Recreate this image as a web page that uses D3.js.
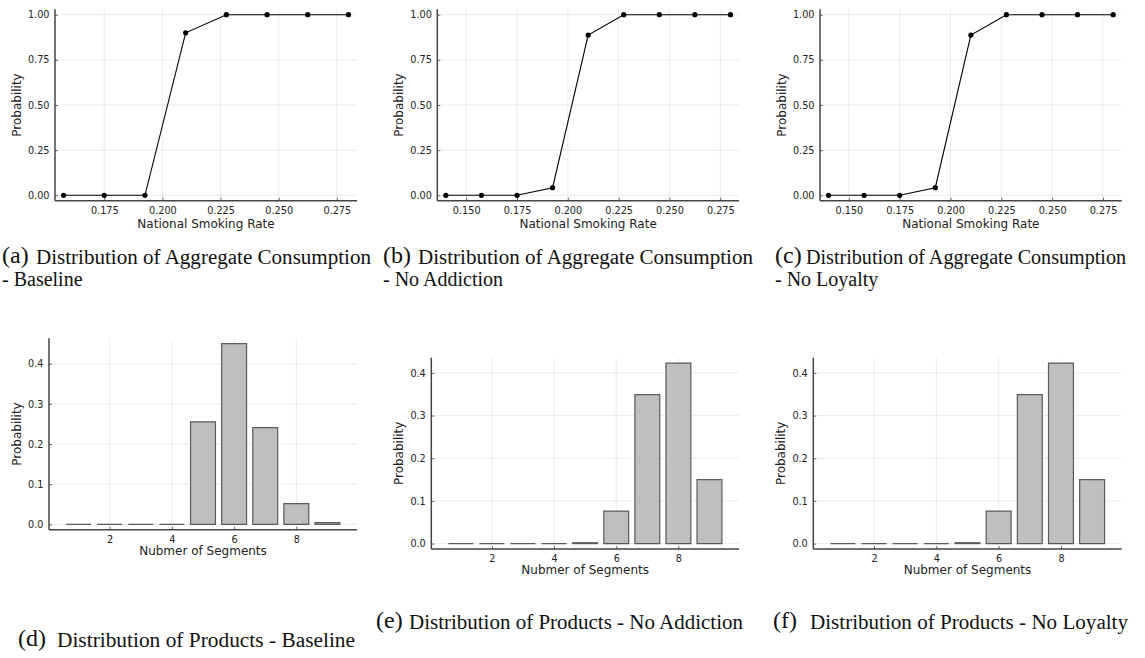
<!DOCTYPE html>
<html>
<head>
<meta charset="utf-8">
<script src="https://cdn.jsdelivr.net/npm/d3@7"></script>
<style>
  body { margin: 0; background: #fff; }
  svg { display: block; }
  .tick-label { font-family: "DejaVu Sans", sans-serif; font-size: 9.7px; fill: #222; }
  .axis-title { font-family: "DejaVu Sans", sans-serif; font-size: 12px; fill: #222; }
  .cap { font-family: "Liberation Serif", "Times New Roman", serif; fill: #111; }
</style>
</head>
<body>
<script>

var smoking_rate_a = [0.1575, 0.175, 0.1925, 0.21, 0.2275, 0.245, 0.2625, 0.28],
    smoking_rate_bc = [0.14, 0.1575, 0.175, 0.1925, 0.21, 0.2275, 0.245, 0.2625, 0.28],
    consumption_baseline = [0, 0, 0, 0.9, 1, 1, 1, 1],
    consumption_no_addiction = [0, 0, 0, 0.042, 0.887, 1, 1, 1, 1],
    consumption_no_loyalty = [0, 0, 0, 0.042, 0.887, 1, 1, 1, 1];

var segments = [1, 2, 3, 4, 5, 6, 7, 8, 9],
    products_baseline = [0, 0, 0, 0, 0.255, 0.45, 0.241, 0.0515, 0.004],
    products_no_addiction = [0, 0, 0, 0, 0.002, 0.076, 0.349, 0.423, 0.15],
    products_no_loyalty = [0, 0, 0, 0, 0.002, 0.076, 0.349, 0.423, 0.15];

var rate_ticks_a = [0.175, 0.2, 0.225, 0.25, 0.275],
    rate_ticks_bc = [0.15, 0.175, 0.2, 0.225, 0.25, 0.275],
    prob_ticks_top = [0, 0.25, 0.5, 0.75, 1],
    prob_ticks_bottom = [0, 0.1, 0.2, 0.3, 0.4],
    segment_ticks = [2, 4, 6, 8];

var width = 1145, height = 658;

var svg = d3.select('body').append('svg')
  .attr('width', width)
  .attr('height', height);

function pad(ext) {
  var m = (ext[1] - ext[0]) * 0.03;
  return [ext[0] - m, ext[1] + m];
}

// common frame: grid, axis lines, inward ticks, labels
function frame(p, x, y, xticks, yticks, xfmt, yfmt) {
  var g = svg.append('g'),
      x0 = p.left, x1 = p.right, y0 = p.bottom, y1 = p.top;

  g.selectAll('.gx').data(xticks).enter().append('line')
    .attr('x1', x).attr('x2', x)
    .attr('y1', y1).attr('y2', y0)
    .attr('stroke', '#000').attr('stroke-opacity', 0.1).attr('stroke-width', 0.8);

  g.selectAll('.gy').data(yticks).enter().append('line')
    .attr('x1', x0).attr('x2', x1)
    .attr('y1', y).attr('y2', y)
    .attr('stroke', '#000').attr('stroke-opacity', 0.1).attr('stroke-width', 0.8);

  var xa = g.append('g')
    .attr('transform', 'translate(0,' + y0 + ')')
    .call(d3.axisBottom(x).tickValues(xticks).tickFormat(d3.format(xfmt)).tickSizeInner(-3).tickSizeOuter(0).tickPadding(6));
  var ya = g.append('g')
    .attr('transform', 'translate(' + x0 + ',0)')
    .call(d3.axisLeft(y).tickValues(yticks).tickFormat(d3.format(yfmt)).tickSizeInner(-3).tickSizeOuter(0).tickPadding(5.5));

  [xa, ya].forEach(function(a) {
    a.select('.domain').remove();
    a.selectAll('.tick line').attr('stroke', '#444').attr('stroke-width', 0.8);
    a.selectAll('.tick text').attr('class', 'tick-label').attr('fill', null);
  });

  g.append('line')
    .attr('x1', x0).attr('x2', x1).attr('y1', y0).attr('y2', y0)
    .attr('stroke', '#444').attr('stroke-width', 1.5);
  g.append('line')
    .attr('x1', x0).attr('x2', x0).attr('y1', y1).attr('y2', y0)
    .attr('stroke', '#444').attr('stroke-width', 1.5);

  g.append('text')
    .attr('class', 'axis-title')
    .attr('text-anchor', 'middle')
    .attr('x', (x0 + x1) / 2)
    .attr('y', y0 + p.xlab)
    .text(p.xtitle);

  g.append('text')
    .attr('class', 'axis-title')
    .attr('text-anchor', 'middle')
    .attr('transform', 'translate(' + (x0 - p.ylab) + ',' + ((y0 + y1) / 2) + ') rotate(-90)')
    .text('Probability');

  return g;
}

function linePanel(p, xs, ys, xticks) {
  var x = d3.scaleLinear().domain(pad(d3.extent(xs))).range([p.left, p.right]),
      y = d3.scaleLinear().domain([-0.03, 1.03]).range([p.bottom, p.top]),
      g = frame(p, x, y, xticks, prob_ticks_top, '.3f', '.2f'),
      pts = d3.zip(xs, ys);

  g.append('path')
    .datum(pts)
    .attr('fill', 'none')
    .attr('stroke', '#000')
    .attr('stroke-width', 1.1)
    .attr('d', d3.line().x(function(d) { return x(d[0]); }).y(function(d) { return y(d[1]); }));

  g.selectAll('circle').data(pts).enter().append('circle')
    .attr('cx', function(d) { return x(d[0]); })
    .attr('cy', function(d) { return y(d[1]); })
    .attr('r', 2.6)
    .attr('fill', '#000');
}

function barPanel(p, xs, ys) {
  var ymax = d3.max(ys),
      x = d3.scaleLinear().domain([0.05, 9.95]).range([p.left, p.right]),
      y = d3.scaleLinear().domain([-0.03 * ymax, 1.03 * ymax]).range([p.bottom, p.top]),
      g = frame(p, x, y, segment_ticks, prob_ticks_bottom, 'd', '.1f'),
      bw = 0.8;

  // paths so that empty bars still show their outline
  g.selectAll('.bar').data(d3.zip(xs, ys)).enter().append('path')
    .attr('class', 'bar')
    .attr('d', function(d) {
      var l = x(d[0] - bw / 2), r = x(d[0] + bw / 2), t = y(d[1]), b = y(0);
      return 'M' + l + ',' + b + 'H' + r + 'V' + t + 'H' + l + 'Z';
    })
    .attr('fill', '#bfbfbf')
    .attr('stroke', '#5a5a5a')
    .attr('stroke-width', 1.2);
}

function caption(tag, x0, x1, x2, yb, lines) {
  var g = svg.append('g').attr('class', 'cap');
  g.append('text').attr('x', x0).attr('y', yb - 1.5).attr('font-size', 24).text(tag);
  g.append('text').attr('x', x1).attr('y', yb).attr('font-size', 20)
    .attr('textLength', x2 - x1).attr('lengthAdjust', 'spacingAndGlyphs')
    .text(lines[0]);
  if (lines[1])
    g.append('text').attr('x', x0).attr('y', yb + 21.5).attr('font-size', 20)
      .text(lines[1]);
}

var top_row = { top: 9.3, bottom: 200.7, xlab: 27, ylab: 34, xtitle: 'National Smoking Rate' },
    bottom_row = { xlab: 25, ylab: 28, xtitle: 'Nubmer of Segments' };

linePanel(Object.assign({}, top_row, { left: 55, right: 357 }), smoking_rate_a, consumption_baseline, rate_ticks_a);
linePanel(Object.assign({}, top_row, { left: 437.3, right: 739 }), smoking_rate_bc, consumption_no_addiction, rate_ticks_bc);
linePanel(Object.assign({}, top_row, { left: 820, right: 1121.7 }), smoking_rate_bc, consumption_no_loyalty, rate_ticks_bc);

barPanel(Object.assign({}, bottom_row, { left: 49, right: 357, top: 338.3, bottom: 529.7 }), segments, products_baseline);
barPanel(Object.assign({}, bottom_row, { left: 431.3, right: 739, top: 357.7, bottom: 549 }), segments, products_no_addiction);
barPanel(Object.assign({}, bottom_row, { left: 813.3, right: 1121.7, top: 357.7, bottom: 549 }), segments, products_no_loyalty);

caption('(a)', 2, 36, 371, 264, ['Distribution of Aggregate Consumption', '- Baseline']);
caption('(b)', 383, 418, 753, 264, ['Distribution of Aggregate Consumption', '- No Addiction']);
caption('(c)', 775, 806, 1126, 264, ['Distribution of Aggregate Consumption', '- No Loyalty']);
caption('(d)', 18, 57, 355, 647, ['Distribution of Products - Baseline']);
caption('(e)', 376, 409, 743, 629, ['Distribution of Products - No Addiction']);
caption('(f)', 773, 810, 1128, 629, ['Distribution of Products - No Loyalty']);

</script>
</body>
</html>
